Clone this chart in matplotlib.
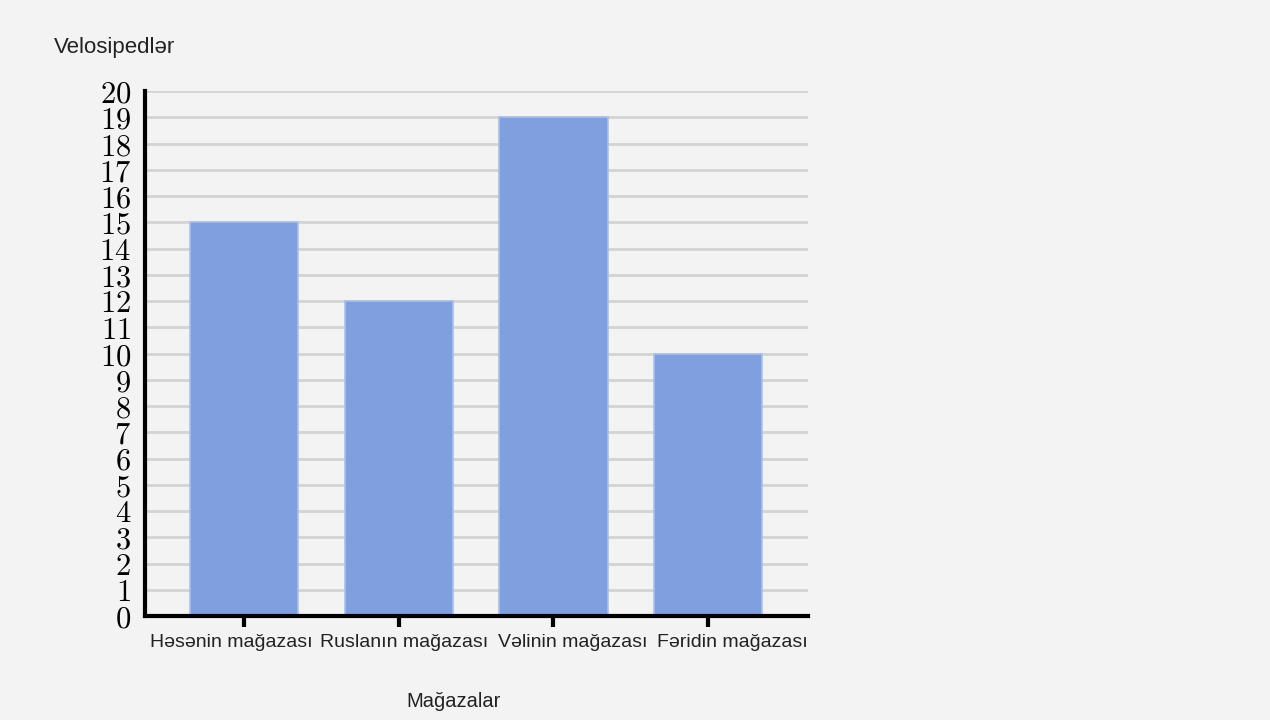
import matplotlib
matplotlib.use("Agg")
import matplotlib.pyplot as plt
from matplotlib.transforms import offset_copy

categories = ["Həsənin mağazası", "Ruslanın mağazası", "Vəlinin mağazası", "Fəridin mağazası"]
values = [15, 12, 19, 10]
yticks = list(range(0, 21))

plt.rcParams['mathtext.fontset'] = 'cm'

fig = plt.figure(figsize=(12.7, 7.2), dpi=100)
fig.patch.set_facecolor('#f3f3f3')
ax = fig.add_axes([145/1270, 1-616/720, (808-145)/1270, (616-91)/720])
ax.set_facecolor('#f3f3f3')

x = list(range(len(categories)))
ax.bar(x, values, width=0.70, color='#7f9fdf', edgecolor='#a9c0ee', linewidth=1.2, zorder=3)

ax.set_xlim(-0.64, 3.645)
ax.set_ylim(0, 20)
ax.set_yticks(yticks)
ax.set_yticklabels([f"${v}$" for v in yticks], fontsize=22)
ax.tick_params(axis='y', length=0, pad=10)
ax.set_xticks(x)
ax.set_xticklabels([])
ax.tick_params(axis='x', length=8, width=3, color='black')

# label offsets (pixels) as laid out in the reference
label_shift = [-13, 5, 19, 24]
for xi, lab, sh in zip(x, categories, label_shift):
    tr = offset_copy(ax.get_xaxis_transform(), fig=fig, x=sh * 72 / 100, y=-31 * 72 / 100, units='points')
    ax.text(xi, 0, lab, transform=tr, ha='center', va='baseline', fontsize=14,
            family='Liberation Sans', color='#222222', clip_on=False)

ax.yaxis.grid(True, color='#d3d3d3', linewidth=2, zorder=0)
for s in ['top', 'right']:
    ax.spines[s].set_visible(False)
for s in ['left', 'bottom']:
    ax.spines[s].set_linewidth(3)
    ax.spines[s].set_color('black')
    ax.spines[s].set_zorder(4)

fig.text(54/1270, 1-53/720, "Velosipedlər", fontsize=16, family='Liberation Sans', va='baseline', ha='left', color='#222222')
fig.text(454/1270, 1-707/720, "Mağazalar", fontsize=14.5, family='Liberation Sans', va='baseline', ha='center', color='#222222')

fig.savefig("out.png", dpi=100, facecolor=fig.get_facecolor())
